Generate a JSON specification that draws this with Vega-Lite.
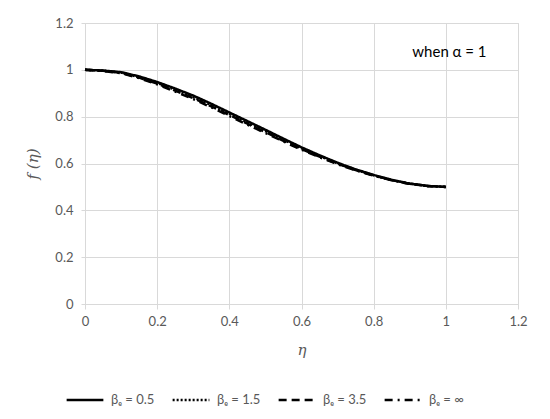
{
  "$schema": "https://vega.github.io/schema/vega-lite/v6.json",
  "autosize": "none",
  "width": 433,
  "height": 281,
  "padding": {"left": 85, "top": 23, "right": 32, "bottom": 115},
  "background": "white",
  "config": {
    "view": {"stroke": "#d9d9d9"},
    "font": "Lato",
    "axis": {
      "gridColor": "#d9d9d9",
      "domainColor": "#d9d9d9",
      "tickColor": "#d9d9d9",
      "labelColor": "#595959",
      "labelFontSize": 13,
      "labelFlush": false,
      "titleColor": "#595959",
      "titleFont": "DejaVu Serif",
      "titleFontStyle": "italic",
      "titleFontWeight": "normal",
      "titleFontSize": 15
    }
  },
  "layer": [
    {
      "data": {
        "values": [
          {"eta": 0.0, "b05": 1.0, "b15": 1.0, "b35": 1.0, "binf": 1.0},
          {"eta": 0.05, "b05": 0.997, "b15": 0.996, "b35": 0.996, "binf": 0.995},
          {"eta": 0.1, "b05": 0.99, "b15": 0.988, "b35": 0.987, "binf": 0.986},
          {"eta": 0.15, "b05": 0.972, "b15": 0.969, "b35": 0.967, "binf": 0.965},
          {"eta": 0.2, "b05": 0.948, "b15": 0.944, "b35": 0.941, "binf": 0.938},
          {"eta": 0.25, "b05": 0.92, "b15": 0.915, "b35": 0.911, "binf": 0.907},
          {"eta": 0.3, "b05": 0.89, "b15": 0.884, "b35": 0.879, "binf": 0.875},
          {"eta": 0.35, "b05": 0.855, "b15": 0.849, "b35": 0.844, "binf": 0.84},
          {"eta": 0.4, "b05": 0.818, "b15": 0.812, "b35": 0.807, "binf": 0.803},
          {"eta": 0.45, "b05": 0.781, "b15": 0.775, "b35": 0.77, "binf": 0.766},
          {"eta": 0.5, "b05": 0.744, "b15": 0.738, "b35": 0.734, "binf": 0.73},
          {"eta": 0.55, "b05": 0.706, "b15": 0.701, "b35": 0.697, "binf": 0.694},
          {"eta": 0.6, "b05": 0.669, "b15": 0.665, "b35": 0.662, "binf": 0.659},
          {"eta": 0.65, "b05": 0.635, "b15": 0.632, "b35": 0.629, "binf": 0.627},
          {"eta": 0.7, "b05": 0.603, "b15": 0.601, "b35": 0.599, "binf": 0.597},
          {"eta": 0.75, "b05": 0.575, "b15": 0.573, "b35": 0.572, "binf": 0.571},
          {"eta": 0.8, "b05": 0.551, "b15": 0.55, "b35": 0.549, "binf": 0.548},
          {"eta": 0.85, "b05": 0.53, "b15": 0.529, "b35": 0.529, "binf": 0.528},
          {"eta": 0.9, "b05": 0.514, "b15": 0.514, "b35": 0.513, "binf": 0.513},
          {"eta": 0.95, "b05": 0.504, "b15": 0.504, "b35": 0.504, "binf": 0.504},
          {"eta": 1.0, "b05": 0.5, "b15": 0.5, "b35": 0.5, "binf": 0.5}
        ]
      },
      "transform": [{"fold": ["b05", "b15", "b35", "binf"], "as": ["series", "f"]}],
      "mark": {"type": "line", "color": "black", "strokeWidth": 2.5},
      "encoding": {
        "x": {
          "field": "eta", "type": "quantitative",
          "scale": {"domain": [0, 1.2], "nice": false},
          "axis": {"title": "η", "values": [0, 0.2, 0.4, 0.6, 0.8, 1, 1.2], "format": ".1~f", "tickSize": 5, "labelPadding": 6, "titlePadding": 14, "domain": true}
        },
        "y": {
          "field": "f", "type": "quantitative",
          "scale": {"domain": [0, 1.2], "nice": false},
          "axis": {"title": "f (η)", "values": [0, 0.2, 0.4, 0.6, 0.8, 1, 1.2], "format": ".1~f", "tickSize": 4, "labelPadding": 8, "titlePadding": 14, "domain": false}
        },
        "strokeDash": {
          "field": "series", "type": "nominal",
          "scale": {"domain": ["b05", "b15", "b35", "binf"], "range": [[1, 0], [2, 2], [8, 5], [8, 5, 2, 5]]},
          "legend": {
            "title": null,
            "orient": "none",
            "legendX": -20,
            "legendY": 357,
            "direction": "horizontal",
            "symbolType": "stroke",
            "symbolSize": 1350,
            "symbolStrokeWidth": 2.5,
            "symbolStrokeColor": "black",
            "labelColor": "#595959",
            "labelFontSize": 13,
            "labelOffset": 6,
            "columnPadding": 12,
            "labelExpr": "{'b05': 'βₑ = 0.5', 'b15': 'βₑ = 1.5', 'b35': 'βₑ = 3.5', 'binf': 'βₑ = ∞'}[datum.value]"
          }
        }
      }
    },
    {
      "data": {"values": [{"eta": 1.01, "f": 1.078, "label": "when α = 1"}]},
      "mark": {"type": "text", "font": "Lato", "fontSize": 15, "color": "black"},
      "encoding": {
        "x": {"field": "eta", "type": "quantitative"},
        "y": {"field": "f", "type": "quantitative"},
        "text": {"field": "label"}
      }
    }
  ]
}
